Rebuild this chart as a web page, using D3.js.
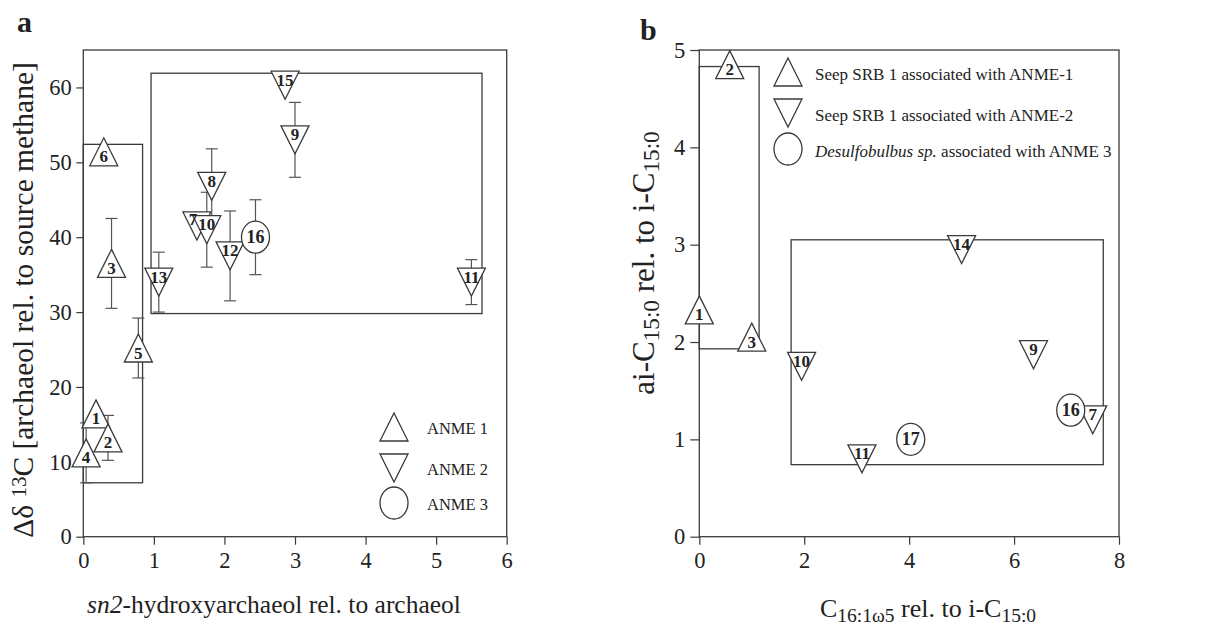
<!DOCTYPE html>
<html>
<head>
<meta charset="utf-8">
<script src="https://cdn.jsdelivr.net/npm/d3@7"></script>
<style>
  body { margin: 0; background: #fff; }
  text { font-family: "Liberation Serif", "Times New Roman", serif; fill: #222; }
</style>
</head>
<body>
<svg id="chart" width="1216" height="626"></svg>
<script>
// ---- panel a: archaeol data ----
const aIds   = ["1", "2", "3", "4", "5", "6", "7", "8", "9", "10", "11", "12", "13", "15", "16"];
const aGroup = [1, 1, 1, 1, 1, 1, 2, 2, 2, 2, 2, 2, 2, 2, 3];
const aX     = [0.18, 0.35, 0.40, 0.04, 0.78, 0.29, 1.61, 1.82, 3.00, 1.75, 5.50, 2.08, 1.07, 2.86, 2.44];
const aY     = [16.4, 13.2, 36.5, 11.2, 25.2, 51.4, 41.5, 46.8, 53.0, 41.0, 34.0, 37.5, 34.0, 60.3, 40.0];
const aErr   = [0, 3, 6, 4, 4, 0, 0, 5, 5, 5, 3, 6, 4, 0, 5];
// boxes: [x0, x1, y0, y1]
const aBoxes = [[0, 0.84, 7.2, 52.4], [0.96, 5.65, 29.8, 61.9]];
const aXTicks = [0, 1, 2, 3, 4, 5, 6];
const aYTicks = [0, 10, 20, 30, 40, 50, 60];
const aLegend = ["ANME 1", "ANME 2", "ANME 3"];

// ---- panel b: fatty acid data ----
const bIds   = ["1", "2", "3", "7", "9", "10", "11", "14", "16", "17"];
const bGroup = [1, 1, 1, 2, 2, 2, 2, 2, 3, 3];
const bX     = [0.00, 0.58, 1.00, 7.50, 6.37, 1.95, 3.10, 5.00, 7.08, 4.03];
const bY     = [2.33, 4.85, 2.05, 1.20, 1.87, 1.75, 0.80, 2.95, 1.30, 1.00];
const bBoxes = [[0, 1.14, 1.93, 4.83], [1.75, 7.70, 0.74, 3.05]];
const bXTicks = [0, 2, 4, 6, 8];
const bYTicks = [0, 1, 2, 3, 4, 5];

const svg = d3.select("#chart");
const ink = "#3a3a3a";

// markers: triangles are as tall as wide, circles slightly oval
const R = 14, RY = 16;
function markerPath(group, cx, cy) {
    const p = d3.path();
    if (group === 1) {
        p.moveTo(cx, cy - R); p.lineTo(cx + R, cy + R); p.lineTo(cx - R, cy + R); p.closePath();
    } else if (group === 2) {
        p.moveTo(cx - R, cy - R); p.lineTo(cx + R, cy - R); p.lineTo(cx, cy + R); p.closePath();
    }
    return p.toString();
}

function drawMarker(g, group, cx, cy) {
    if (group === 3) {
        g.append("ellipse").attr("cx", cx).attr("cy", cy).attr("rx", R).attr("ry", RY)
            .attr("fill", "#fff").attr("stroke", ink).attr("stroke-width", 1.3);
    } else {
        g.append("path").attr("d", markerPath(group, cx, cy))
            .attr("fill", "#fff").attr("stroke", ink).attr("stroke-width", 1.3);
    }
}

function drawPanel(opt) {
    const g = svg.append("g");
    const x = opt.x, y = opt.y;
    const [x0, x1] = x.range(), [y0, y1] = y.range();

    // axes (ticks only, the frame is drawn separately)
    const ya = g.append("g").attr("transform", `translate(${x0},0)`)
        .call(d3.axisLeft(y).tickValues(opt.yTicks).tickFormat(d3.format("d"))
            .tickSize(opt.yTickSize).tickPadding(opt.yPad));
    const xa = g.append("g").attr("transform", `translate(0,${y0})`)
        .call(d3.axisBottom(x).tickValues(opt.xTicks).tickFormat(d3.format("d"))
            .tickSize(8).tickPadding(7.5));
    [ya, xa].forEach(a => {
        a.select(".domain").remove();
        a.selectAll("line").attr("stroke", ink).attr("stroke-width", 1.2);
        a.selectAll("text").attr("font-size", 22.5).attr("fill", "#222")
            .style("font-family", '"Liberation Serif", "Times New Roman", serif');
    });

    g.append("rect").attr("x", x0).attr("y", y1).attr("width", x1 - x0).attr("height", y0 - y1)
        .attr("fill", "none").attr("stroke", ink).attr("stroke-width", 1.3);

    // group boxes
    g.selectAll("rect.box").data(opt.boxes).join("rect").attr("class", "box")
        .attr("x", d => x(d[0])).attr("y", d => y(d[3]))
        .attr("width", d => x(d[1]) - x(d[0])).attr("height", d => y(d[2]) - y(d[3]))
        .attr("fill", "none").attr("stroke", ink).attr("stroke-width", 1.3);

    // error bars
    const pts = opt.ids.map((id, i) => ({ id, grp: opt.group[i], xv: opt.xs[i], yv: opt.ys[i], e: opt.err ? opt.err[i] : 0 }));
    const eb = g.append("g").attr("stroke", "#555").attr("stroke-width", 1.2);
    pts.filter(d => d.e > 0).forEach(d => {
        const cx = x(d.xv);
        eb.append("line").attr("x1", cx).attr("x2", cx).attr("y1", y(d.yv - d.e)).attr("y2", y(d.yv + d.e));
        [d.yv - d.e, d.yv + d.e].forEach(v => {
            eb.append("line").attr("x1", cx - 6).attr("x2", cx + 6).attr("y1", y(v)).attr("y2", y(v));
        });
    });

    // markers first, then all numbers on top so overlapping ones stay readable
    const mk = g.append("g");
    pts.forEach(d => drawMarker(mk, d.grp, x(d.xv), y(d.yv)));
    const lb = g.append("g");
    pts.forEach(d => {
        let dy = d.grp === 1 ? 10.5 : d.grp === 2 ? 0.5 : 6;
        let dx = 0;
        if (opt.nudge && opt.nudge[d.id]) { dx = opt.nudge[d.id][0]; dy += opt.nudge[d.id][1]; }
        lb.append("text").attr("x", x(d.xv) + dx).attr("y", y(d.yv) + dy).attr("text-anchor", "middle")
            .attr("font-weight", "bold").attr("font-size", d.grp === 3 ? 18 : 17).attr("fill", "#111")
            .text(d.id);
    });
    return g;
}

// ---- panel a ----
const xA = d3.scaleLinear().domain([0, 6]).range([83.3, 506.7]);
const yA = d3.scaleLinear().domain([0, 65]).range([536.7, 50]);
drawPanel({ x: xA, y: yA, xTicks: aXTicks, yTicks: aYTicks, yTickSize: 7, yPad: 4.5,
    boxes: aBoxes, ids: aIds, group: aGroup, xs: aX, ys: aY, err: aErr, nudge: { "7": [-4, -1] } });

// legend a
const legA = svg.append("g").attr("transform", "translate(394,0)");
[427, 468, 503].forEach((cy, i) => {
    drawMarker(legA, i + 1, 0, cy);
    legA.append("text").attr("x", 33).attr("y", cy + 7).attr("font-size", 16.5).attr("fill", "#333")
        .text(aLegend[i]);
});

svg.append("text").attr("x", 17).attr("y", 32).attr("font-size", 30).attr("font-weight", "bold").text("a");

const axA = svg.append("text").attr("x", 274).attr("y", 613).attr("text-anchor", "middle").attr("font-size", 25.5);
axA.append("tspan").attr("font-style", "italic").text("sn2");
axA.append("tspan").text("-hydroxyarchaeol rel. to archaeol");

const ayA = svg.append("text").attr("transform", "translate(33,300) rotate(-90)")
    .attr("text-anchor", "middle").attr("font-size", 29.5);
ayA.append("tspan").text("Δδ ");
ayA.append("tspan").attr("font-size", 21).attr("dy", -7).text("13");
ayA.append("tspan").attr("dy", 7).text("C [archaeol rel. to source methane]");

// ---- panel b ----
const xB = d3.scaleLinear().domain([0, 8]).range([699.3, 1119]);
const yB = d3.scaleLinear().domain([0, 5]).range([536.7, 50]);
drawPanel({ x: xB, y: yB, xTicks: bXTicks, yTicks: bYTicks, yTickSize: 9, yPad: 5,
    boxes: bBoxes, ids: bIds, group: bGroup, xs: bX, ys: bY, err: null });

// legend b
const legB = svg.append("g").attr("transform", "translate(788,0)");
[72, 113, 149].forEach((cy, i) => {
    drawMarker(legB, i + 1, 0, cy);
    const t = legB.append("text").attr("x", 27).attr("y", cy + 8).attr("font-size", 17).attr("fill", "#222");
    if (i === 0) t.text("Seep SRB 1 associated with ANME-1");
    if (i === 1) t.text("Seep SRB 1 associated with ANME-2");
    if (i === 2) {
        t.append("tspan").attr("font-style", "italic").text("Desulfobulbus sp.");
        t.append("tspan").text(" associated with ANME 3");
    }
});

svg.append("text").attr("x", 640).attr("y", 40).attr("font-size", 30).attr("font-weight", "bold").text("b");

const axB = svg.append("text").attr("x", 928).attr("y", 617).attr("text-anchor", "middle").attr("font-size", 26);
axB.append("tspan").text("C");
axB.append("tspan").attr("font-size", "0.75em").attr("dy", 5).text("16:1ω5");
axB.append("tspan").attr("dy", -5).text(" rel. to i-C");
axB.append("tspan").attr("font-size", "0.75em").attr("dy", 5).text("15:0");

const ayB = svg.append("text").attr("transform", "translate(654,263) rotate(-90)")
    .attr("text-anchor", "middle").attr("font-size", 31);
ayB.append("tspan").text("ai-C");
ayB.append("tspan").attr("font-size", "0.75em").attr("dy", 5).text("15:0");
ayB.append("tspan").attr("dy", -5).text(" rel. to i-C");
ayB.append("tspan").attr("font-size", "0.75em").attr("dy", 5).text("15:0");
</script>
</body>
</html>
